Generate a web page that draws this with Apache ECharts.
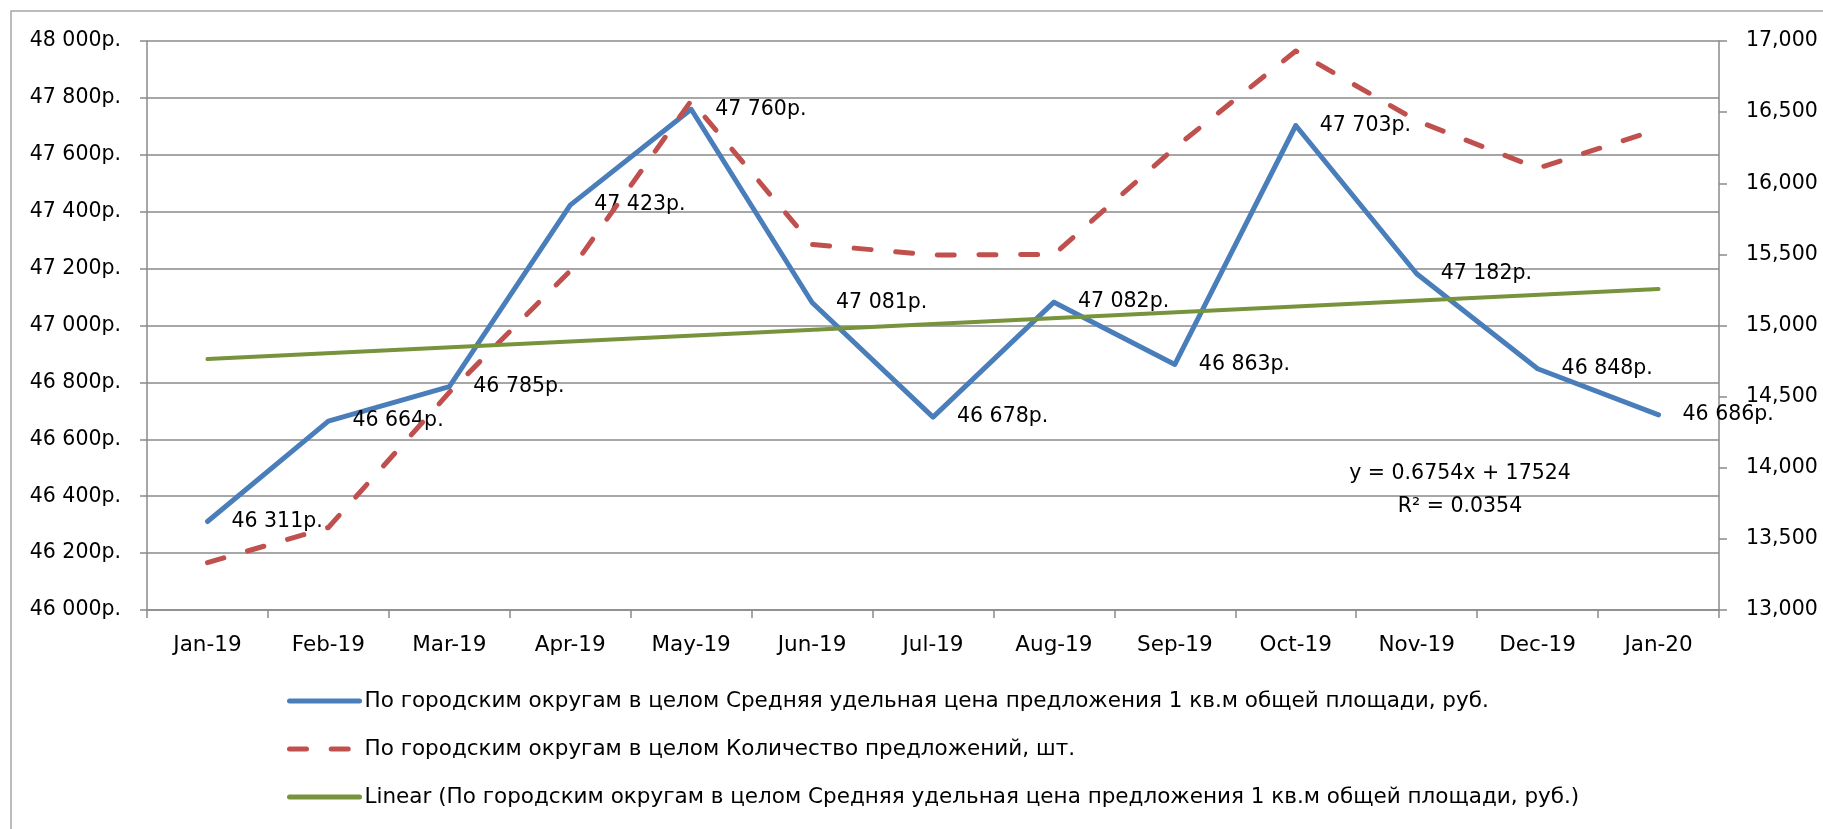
<!DOCTYPE html>
<html>
<head>
<meta charset="utf-8">
<script src="https://cdn.jsdelivr.net/npm/echarts@6/dist/echarts.min.js"></script>
<style>
html,body{margin:0;padding:0;background:#ffffff;}
#chart{width:1823px;height:829px;}
</style>
</head>
<body>
<div id="chart"></div>
<script>
// ---- data ----
const categories = ['Jan-19','Feb-19','Mar-19','Apr-19','May-19','Jun-19','Jul-19','Aug-19','Sep-19','Oct-19','Nov-19','Dec-19','Jan-20'];
const priceValues = [46311,46664,46785,47423,47760,47081,46678,47082,46863,47703,47182,46848,46686];
const offerCounts = [13333,13580,14530,15385,16580,15570,15495,15500,16250,16930,16440,16105,16380];
const trendValues = [46882,null,null,null,null,null,null,null,null,null,null,null,47128];
const leftTicks = [46000,46200,46400,46600,46800,47000,47200,47400,47600,47800,48000];
const rightTicks = [13000,13500,14000,14500,15000,15500,16000,16500,17000];
const trendEquation = 'y = 0.6754x + 17524';
const trendR2 = 'R² = 0.0354';

const nameSeries1 = 'По городским округам в целом Средняя удельная цена предложения 1 кв.м общей площади, руб.';
const nameSeries2 = 'По городским округам в целом Количество предложений, шт.';
const nameSeries3 = 'Linear (По городским округам в целом Средняя удельная цена предложения 1 кв.м общей площади, руб.)';

const FONT = 'DejaVu Sans';
const FS = 20.5;
const GRID_COLOR = '#8a8a8a';
const BLUE = '#4a7ebb', RED = '#c0504d', GREEN = '#77933c';

function spaced(v){ return String(v).replace(/\B(?=(\d{3})+(?!\d))/g, ' '); }
function commas(v){ return String(v).replace(/\B(?=(\d{3})+(?!\d))/g, ','); }

const chart = echarts.init(document.getElementById('chart'), null, {renderer:'canvas'});
chart.setOption({
  animation: false,
  backgroundColor: '#ffffff',
  textStyle: {fontFamily: FONT},
  grid: {left: 147, right: 104, top: 41, bottom: 219, containLabel: false},
  xAxis: {
    type: 'category',
    data: categories,
    boundaryGap: true,
    axisLine: {show: true, lineStyle: {color: GRID_COLOR, width: 1.5}},
    axisTick: {show: true, length: 8, inside: false, lineStyle: {color: GRID_COLOR, width: 1.5}},
    axisLabel: {color: '#000', fontFamily: FONT, fontSize: 21.5, margin: 24, interval: 0},
    splitLine: {show: false}
  },
  yAxis: [
    {
      type: 'value',
      position: 'left',
      min: leftTicks[0],
      max: leftTicks[leftTicks.length-1],
      interval: leftTicks[1]-leftTicks[0],
      axisLine: {show: true, lineStyle: {color: GRID_COLOR, width: 1.5}},
      axisTick: {show: true, length: 7, lineStyle: {color: GRID_COLOR, width: 1.5}},
      axisLabel: {color: '#000', fontFamily: FONT, fontSize: FS, margin: 26, formatter: v => spaced(v) + 'р.'},
      splitLine: {show: true, lineStyle: {color: GRID_COLOR, width: 1.5}}
    },
    {
      type: 'value',
      position: 'right',
      min: rightTicks[0],
      max: rightTicks[rightTicks.length-1],
      interval: rightTicks[1]-rightTicks[0],
      axisLine: {show: true, lineStyle: {color: GRID_COLOR, width: 1.5}},
      axisTick: {show: true, length: 8, lineStyle: {color: GRID_COLOR, width: 1.5}},
      axisLabel: {color: '#000', fontFamily: FONT, fontSize: FS, margin: 27, formatter: v => commas(v)},
      splitLine: {show: false}
    }
  ],
  legend: {
    orient: 'vertical',
    left: 287,
    top: 689,
    padding: 0,
    itemWidth: 70,
    itemHeight: 24,
    itemGap: 24,
    itemStyle: {opacity: 0},
    lineStyle: {width: 5, cap: 'round'},
    textStyle: {color: '#000', fontFamily: FONT, fontSize: 21.5, lineHeight: 24},
    data: [nameSeries1, nameSeries2, nameSeries3]
  },
  series: [
    {
      name: nameSeries1,
      type: 'line',
      yAxisIndex: 0,
      data: priceValues,
      symbol: 'circle',
      symbolSize: 4,
      showSymbol: true,
      z: 3,
      lineStyle: {color: BLUE, width: 5, cap: 'round', join: 'round'},
      itemStyle: {color: BLUE},
      label: {
        show: true, position: 'right', distance: 22, offset: [0, 1.5],
        color: '#000', fontFamily: FONT, fontSize: FS,
        formatter: p => spaced(p.value) + 'р.'
      },
      labelLayout: {hideOverlap: false}
    },
    {
      name: nameSeries2,
      type: 'line',
      yAxisIndex: 1,
      data: offerCounts,
      symbol: 'none',
      z: 4,
      lineStyle: {color: RED, width: 5, type: [17, 24.7], cap: 'round', join: 'round'},
      itemStyle: {color: RED}
    },
    {
      name: nameSeries3,
      type: 'line',
      yAxisIndex: 0,
      data: trendValues,
      connectNulls: true,
      symbol: 'none',
      z: 5,
      lineStyle: {color: GREEN, width: 4, cap: 'round'},
      itemStyle: {color: GREEN}
    }
  ],
  graphic: [
    {type: 'rect', silent: true, z: -1, shape: {x: 11, y: 11, width: 1900, height: 900},
     style: {fill: 'none', stroke: '#a6a6a6', lineWidth: 1.5}},
    {type: 'text', x: 1460, y: 474, silent: true, z: 10,
     style: {text: trendEquation, fill: '#000', font: FS + 'px "' + FONT + '"', textAlign: 'center', textVerticalAlign: 'middle'}},
    {type: 'text', x: 1460, y: 507, silent: true, z: 10,
     style: {text: trendR2, fill: '#000', font: FS + 'px "' + FONT + '"', textAlign: 'center', textVerticalAlign: 'middle'}}
  ]
});
</script>
</body>
</html>
